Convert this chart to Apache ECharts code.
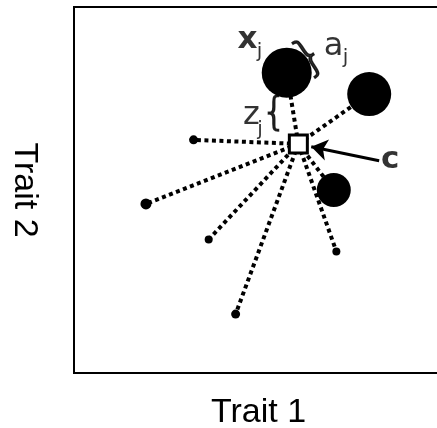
<!DOCTYPE html>
<html><head><meta charset="utf-8">
<script src="https://cdn.jsdelivr.net/npm/echarts@6/dist/echarts.min.js"></script>
<style>html,body{margin:0;padding:0;background:#fff}#c{width:437px;height:428px}</style>
</head><body><div id="c"></div>
<script>
// ---- data (trait space 0..100) ----
const trait1 = [57.65, 80.0, 70.4, 32.4, 19.5, 36.5, 43.8, 71.1];
const trait2 = [82.05, 76.2, 50.0, 63.7, 46.2, 36.5, 16.1, 33.2];
const abundance = [50, 44, 34, 9, 11, 8, 9, 8];
const centroid = [60.8, 62.6];
const axisNames = ['Trait 1', 'Trait 2'];
const arrowFrom = [82.7, 58.0];
const arrowTo = [64.3, 61.8];
const boldLabels = [['x', 47.0, 90.98], ['c', 85.66, 58.2]];
const plainLabels = [['a', 70.36, 89.2], ['z', 48.09, 70.27]];
const subLabels = [['j', 50.27, 87.7], ['j', 73.58, 86.2], ['j', 50.41, 66.4]];
const braceRotated = [['}', 64.02, 85.98]];
const braceUpright = [['{', 54.23, 70.63]];

const points = trait1.map((x, i) => [x, trait2[i], abundance[i]]);
const FONT = 'DejaVu Sans';

function textSeries(list, labelStyle) {
  return {
    type: 'scatter', z: 4, silent: true, symbolSize: 0,
    data: list.map(l => ({value: [l[1], l[2]], name: l[0]})),
    label: Object.assign({show: true, position: 'inside', formatter: p => p.name,
      fontFamily: FONT, color: '#000', textBorderWidth: 0}, labelStyle)
  };
}

const chart = echarts.init(document.getElementById('c'), null, {renderer: 'canvas'});
chart.setOption({
  animation: false,
  backgroundColor: '#fff',
  grid: {left: 74, right: -6, top: 7, bottom: 55, outerBoundsMode: 'none', containLabel: false,
    show: true, borderColor: '#000', borderWidth: 2, backgroundColor: 'transparent'},
  xAxis: {
    type: 'value', min: 0, max: 100,
    axisLine: {show: false}, axisTick: {show: false}, axisLabel: {show: false}, splitLine: {show: false},
    name: axisNames[0], nameLocation: 'middle', nameGap: 23,
    nameTextStyle: {fontFamily: 'Liberation Sans', fontSize: 34, color: '#000'}
  },
  yAxis: {
    type: 'value', min: 0, max: 100,
    axisLine: {show: false}, axisTick: {show: false}, axisLabel: {show: false}, splitLine: {show: false},
    name: axisNames[1], nameLocation: 'middle', nameGap: 33, nameRotate: -90,
    nameTextStyle: {fontFamily: 'Liberation Sans', fontSize: 34, color: '#000'}
  },
  series: [
    {
      type: 'lines', coordinateSystem: 'cartesian2d', z: 1, silent: true,
      lineStyle: {color: '#000', width: 4, type: [4, 3.5], opacity: 1},
      data: points.map(p => ({coords: [centroid, [p[0], p[1]]]}))
    },
    {
      type: 'scatter', z: 2, silent: true,
      symbolSize: v => v[2],
      itemStyle: {color: '#000', opacity: 1},
      data: points
    },
    {
      type: 'scatter', z: 3, silent: true, symbol: 'rect', symbolSize: 18,
      itemStyle: {color: '#fff', borderColor: '#000', borderWidth: 3, opacity: 1},
      data: [centroid]
    },
    {
      type: 'lines', coordinateSystem: 'cartesian2d', z: 3, silent: true,
      symbol: ['none', 'arrow'], symbolSize: [12, 16],
      lineStyle: {color: '#000', width: 3, opacity: 1},
      data: [{coords: [arrowFrom, arrowTo]}]
    },
    textSeries(boldLabels, {fontWeight: 'bold', fontSize: 31}),
    textSeries(plainLabels, {fontWeight: 'normal', fontSize: 32}),
    textSeries(subLabels, {fontWeight: 'normal', fontSize: 20}),
    textSeries(braceRotated, {fontWeight: 200, fontSize: 46, rotate: 33, textBorderColor: '#000', textBorderWidth: 1.4}),
    textSeries(braceUpright, {fontWeight: 200, fontSize: 39, textBorderColor: '#000', textBorderWidth: 1.4})
  ]
});
</script>
</body></html>
